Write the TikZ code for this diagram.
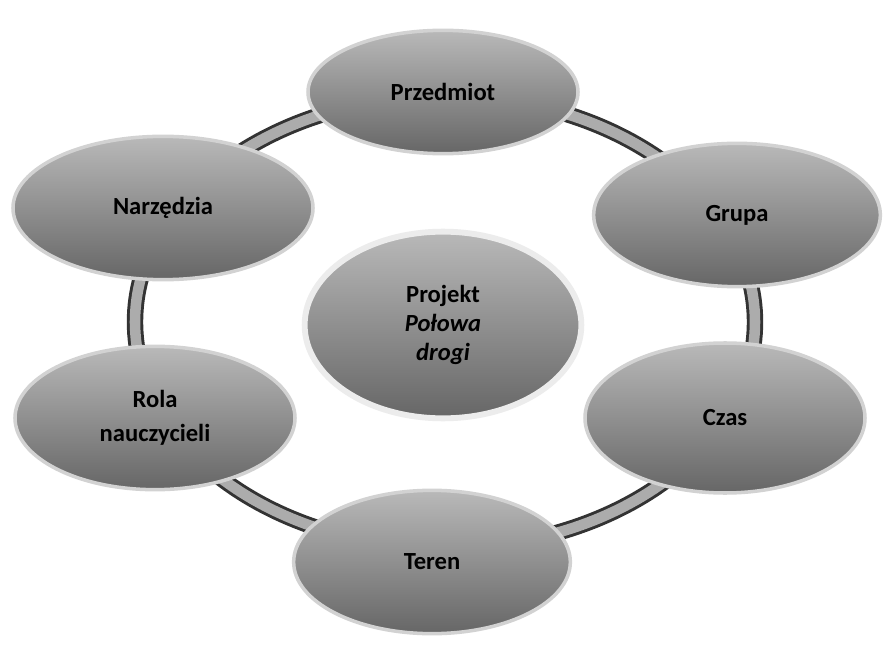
\documentclass[tikz,border=0pt]{standalone}
\usepackage{fontspec}
\setmainfont{Carlito}
\usetikzlibrary{shapes.geometric}
\begin{document}
\begin{tikzpicture}[x=0.03cm,y=-0.03cm,
    bubble/.style={ellipse, draw=gray!35, line width=3pt, top color=gray!55, bottom color=gray!80!black,
      font=\fontsize{21}{25}\selectfont\bfseries, text=black, align=center, inner sep=0pt},
    ring/.style={line width=14pt, gray!40!black}]
    \useasboundingbox (0,0) rectangle (886,650);
    \fill[white] (0,0) rectangle (886,650);

    % the ring behind the bubbles
    \draw[ring] (445,322) ellipse [x radius=310, y radius=226];
    \draw[line width=9pt, gray!65] (445,322) ellipse [x radius=310, y radius=226];

    % the bubbles
    \node[bubble, minimum width=8.1cm, minimum height=3.7cm] (przedmiot) at (443,92) {Przedmiot};
    \node[bubble, minimum width=9cm, minimum height=4.3cm] (narzedzia) at (163,208) {Narzędzia};
    \node[bubble, minimum width=8.6cm, minimum height=4.3cm] (grupa) at (737,215) {Grupa};
    \node[bubble, minimum width=8.4cm, minimum height=4.3cm] (rola) at (155,418) {Rola\\[4pt]nauczycieli};
    \node[bubble, minimum width=8.4cm, minimum height=4.5cm] (czas) at (725,418) {Czas};
    \node[bubble, minimum width=8.3cm, minimum height=4.3cm] (teren) at (432,562) {Teren};
    \node[bubble, draw=gray!15, line width=5pt, minimum width=8.3cm, minimum height=5.6cm] (projekt) at (443,325)
      {Projekt\\\textit{Połowa}\\\textit{drogi}};
\end{tikzpicture}
\end{document}
